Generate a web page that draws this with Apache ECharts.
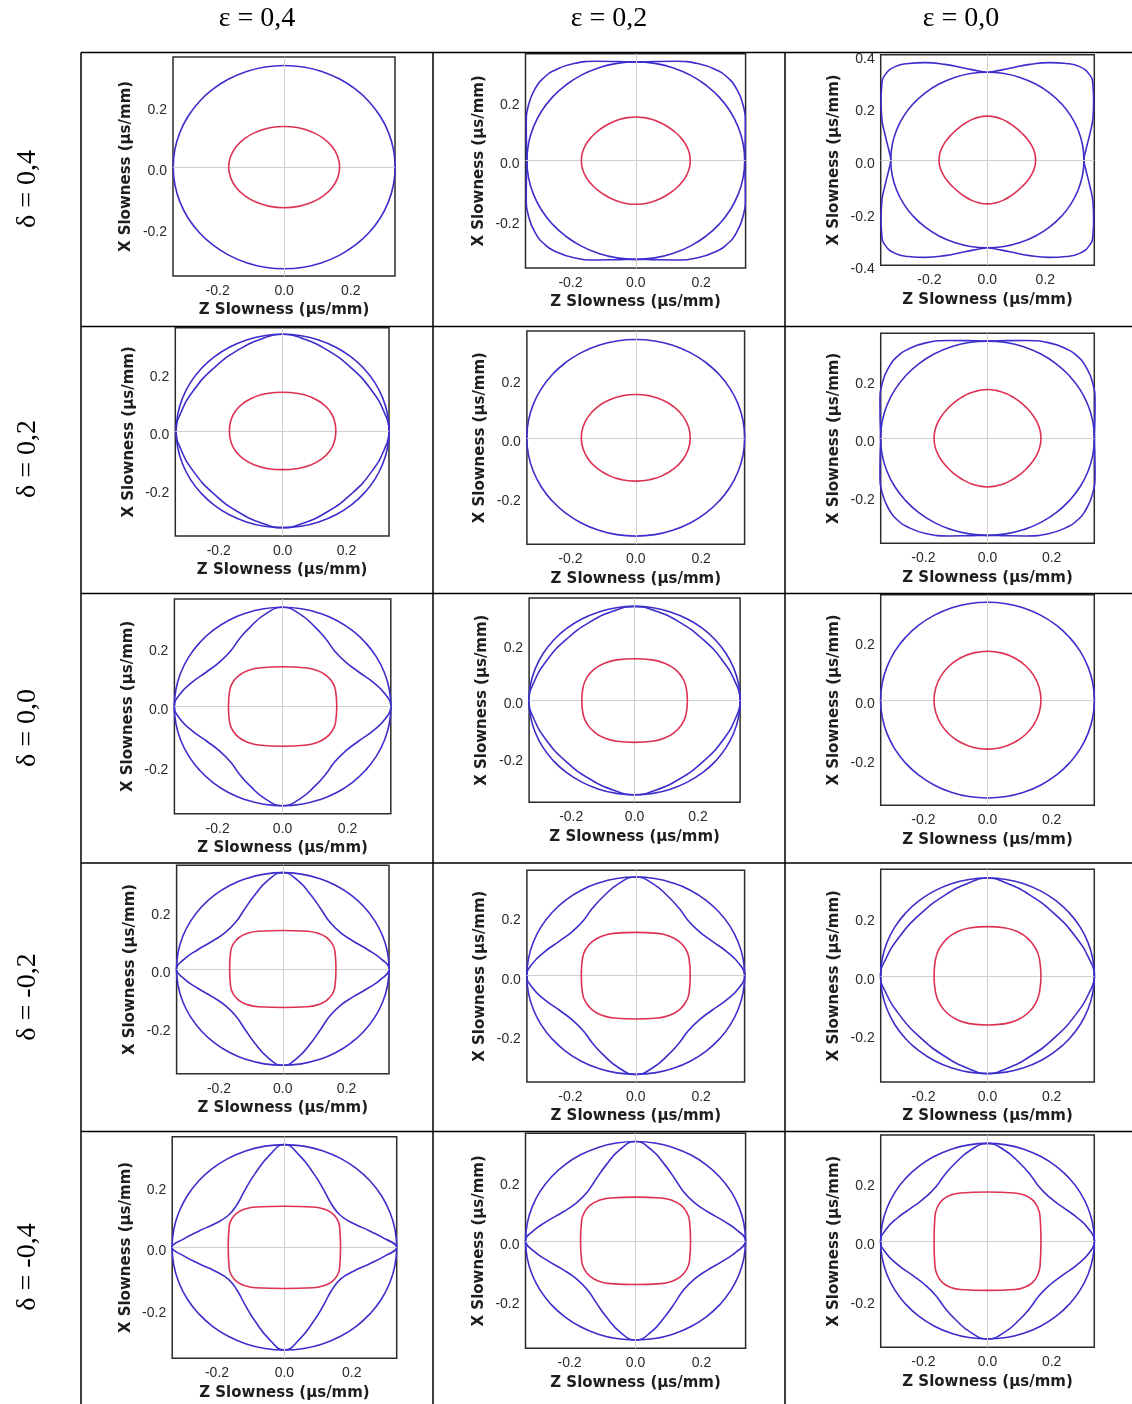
<!DOCTYPE html>
<html>
<head>
<meta charset="utf-8">
<script src="https://cdn.jsdelivr.net/npm/echarts@6/dist/echarts.min.js"></script>
<style>
html,body{margin:0;padding:0;background:#fff}
#chart{width:1132px;height:1404px}
</style>
</head>
<body>
<div id="chart"></div>
<script>
// Column / row headings (Thomsen parameters)
const epsLabels = ['ε = 0,4', 'ε = 0,2', 'ε = 0,0'];
const deltaLabels = ['δ = 0,4', 'δ = 0,2', 'δ = 0,0', 'δ = -0,2', 'δ = -0,4'];

// Tick labels
const zTicks = [-0.2, 0, 0.2];
const xTicks = [-0.2, 0, 0.2];
const xTicksWide = [-0.4, -0.2, 0, 0.2, 0.4];

// Slowness curves, first quadrant only: [Z slowness, X slowness] in µs/mm,
// running from the Z axis to the X axis. The rest follows by symmetry.

// SH wave: isotropic, same in every panel
const shCircle = [[0.3333,0],[0.3283,0.0579],[0.3132,0.1140],[0.2887,0.1667],[0.2553,0.2143],
  [0.2143,0.2553],[0.1667,0.2887],[0.1140,0.3132],[0.0579,0.3283],[0,0.3333]];

// qP
const qP_e4_d4  = [[0.1667,0],[0.1610,0.0345],[0.1444,0.0667],[0.1179,0.0943],[0.0834,0.1154],[0.0431,0.1288],[0,0.1333]];
const qP_e2_d4  = [[0.1667,0],[0.1629,0.0287],[0.1522,0.0554],[0.1365,0.0788],[0.1175,0.0986],[0.0966,0.1151],
  [0.0742,0.1284],[0.0505,0.1387],[0.0256,0.1453],[0,0.1475]];
const qP_e0_d4  = [[0.1667,0],[0.1629,0.0287],[0.1525,0.0555],[0.1376,0.0795],[0.1201,0.1008],[0.1008,0.1201],
  [0.0795,0.1376],[0.0555,0.1525],[0.0287,0.1629],[0,0.1667]];
const qP_e4_d2  = [[0.1667,0],[0.1615,0.0390],[0.1463,0.0710],[0.1216,0.0973],[0.0888,0.1170],[0.0488,0.1292],[0,0.1333]];
const qP_e2_d2  = [[0.1667,0],[0.1610,0.0380],[0.1444,0.0735],[0.1179,0.1039],[0.0834,0.1273],[0.0431,0.1420],[0,0.1470]];
const qP_e0_d2  = [[0.1667,0],[0.1634,0.0288],[0.1541,0.0561],[0.1401,0.0809],[0.1229,0.1031],[0.1031,0.1229],
  [0.0809,0.1401],[0.0561,0.1541],[0.0288,0.1634],[0,0.1672]];
const qP_e4_d0  = [[0.1667,0],[0.1629,0.0541],[0.1515,0.0840],[0.1323,0.1058],[0.1050,0.1211],[0.0677,0.1302],[0,0.1333]];
const qP_e2_d0  = [[0.1667,0],[0.1621,0.0502],[0.1486,0.0850],[0.1263,0.1122],[0.0957,0.1319],[0.0565,0.1439],[0,0.1480]];
const qP_e0_d0  = [[0.1667,0],[0.1610,0.0431],[0.1444,0.0834],[0.1179,0.1179],[0.0834,0.1444],[0.0431,0.1610],[0,0.1667]];
const qP_e4_dm2 = [[0.1667,0],[0.1634,0.0616],[0.1535,0.0897],[0.1367,0.1093],[0.1122,0.1228],[0.0770,0.1307],[0,0.1333]];
const qP_e2_dm2 = [[0.1667,0],[0.1629,0.0594],[0.1515,0.0922],[0.1323,0.1161],[0.1050,0.1329],[0.0677,0.1429],[0,0.1463]];
const qP_e0_dm2 = [[0.1667,0],[0.1621,0.0568],[0.1486,0.0962],[0.1263,0.1269],[0.0957,0.1493],[0.0565,0.1629],[0,0.1675]];
const qP_e4_dm4 = [[0.1667,0],[0.1638,0.0678],[0.1551,0.0943],[0.1402,0.1121],[0.1179,0.1240],[0.0848,0.1310],[0,0.1333]];
const qP_e2_dm4 = [[0.1667,0],[0.1634,0.0678],[0.1535,0.0987],[0.1367,0.1203],[0.1122,0.1351],[0.0770,0.1438],[0,0.1467]];
const qP_e0_dm4 = [[0.1667,0],[0.1638,0.0852],[0.1551,0.1184],[0.1402,0.1409],[0.1179,0.1559],[0.0848,0.1646],[0,0.1675]];

// qSV (null where it coincides with the SH circle, i.e. epsilon = delta)
const qSV_e2_d4 = [[0.3333,0],[0.3347,0.0590],[0.3353,0.1220],[0.3280,0.1893],[0.3023,0.2537],[0.2807,0.2807],
  [0.2537,0.3023],[0.1893,0.3280],[0.1220,0.3353],[0.0590,0.3347],[0,0.3333]];
const qSV_e0_d4 = [[0.3333,0],[0.3390,0.0333],[0.3530,0.0960],[0.3643,0.1590],[0.3667,0.2223],[0.3643,0.2853],
  [0.3530,0.3233],[0.3183,0.3547],[0.2723,0.3667],[0.2150,0.3700],[0.1460,0.3633],[0.0770,0.3483],[0.0197,0.3360],[0,0.3333]];
const qSV_e4_d2 = [[0.3333,0],[0.3192,0.0615],[0.2785,0.1401],[0.2161,0.2161],[0.1401,0.2785],[0.0615,0.3192],[0,0.3333]];
const qSV_e0_d2 = [[0.3333,0],[0.3347,0.0590],[0.3353,0.1220],[0.3280,0.1893],[0.3023,0.2537],[0.2807,0.2807],
  [0.2537,0.3023],[0.1893,0.3280],[0.1220,0.3353],[0.0590,0.3347],[0,0.3333]];
const qSV_e4_d0 = [[0.3333,0],[0.3167,0.0400],[0.2800,0.0800],[0.2333,0.1167],[0.1933,0.1500],[0.1600,0.1867],
  [0.1333,0.2267],[0.1000,0.2667],[0.0533,0.3100],[0,0.3333]];
const qSV_e2_d0 = [[0.3333,0],[0.3192,0.0615],[0.2785,0.1401],[0.2161,0.2161],[0.1401,0.2785],[0.0615,0.3192],[0,0.3333]];
const qSV_e4_dm2 = [[0.3333,0],[0.3100,0.0333],[0.2667,0.0667],[0.2200,0.0967],[0.1800,0.1267],[0.1467,0.1633],
  [0.1200,0.2067],[0.0900,0.2533],[0.0467,0.3067],[0,0.3333]];
const qSV_e2_dm2 = [[0.3333,0],[0.3167,0.0400],[0.2800,0.0800],[0.2333,0.1167],[0.1933,0.1500],[0.1600,0.1867],
  [0.1333,0.2267],[0.1000,0.2667],[0.0533,0.3100],[0,0.3333]];
const qSV_e0_dm2 = [[0.3333,0],[0.3182,0.0550],[0.2751,0.1323],[0.2100,0.2100],[0.1323,0.2751],[0.0550,0.3182],[0,0.3333]];
const qSV_e4_dm4 = [[0.3333,0],[0.3000,0.0267],[0.2533,0.0533],[0.2067,0.0767],[0.1667,0.1033],[0.1400,0.1400],
  [0.1167,0.1867],[0.0867,0.2400],[0.0433,0.3000],[0,0.3333]];
const qSV_e2_dm4 = [[0.3333,0],[0.3100,0.0333],[0.2667,0.0667],[0.2200,0.0967],[0.1800,0.1267],[0.1467,0.1633],
  [0.1200,0.2067],[0.0900,0.2533],[0.0467,0.3067],[0,0.3333]];
const qSV_e0_dm4 = [[0.3333,0],[0.3167,0.0400],[0.2800,0.0800],[0.2333,0.1167],[0.1933,0.1500],[0.1600,0.1867],
  [0.1333,0.2267],[0.1000,0.2667],[0.0533,0.3100],[0,0.3333]];

// Axis extents of every panel (µs/mm), row by row
const zRanges = [
  [-0.334,0.333],[-0.3376,0.336],[-0.368,0.369],
  [-0.336,0.333],[-0.333,0.333],[-0.333,0.333],
  [-0.333,0.333],[-0.333,0.333],[-0.333,0.333],
  [-0.333,0.333],[-0.333,0.333],[-0.333,0.333],
  [-0.333,0.3334],[-0.3335,0.3335],[-0.333,0.333]
];
const xRanges = [
  [-0.357,0.361],[-0.3625,0.361],[-0.4,0.4],
  [-0.362,0.356],[-0.361,0.362],[-0.3606,0.36],
  [-0.36,0.361],[-0.36,0.363],[-0.358,0.359],
  [-0.3623,0.3588],[-0.359,0.356],[-0.362,0.363],
  [-0.36,0.359],[-0.361,0.361],[-0.3615,0.362]
];

const qPCurves = [qP_e4_d4, qP_e2_d4, qP_e0_d4, qP_e4_d2, qP_e2_d2, qP_e0_d2, qP_e4_d0, qP_e2_d0, qP_e0_d0,
  qP_e4_dm2, qP_e2_dm2, qP_e0_dm2, qP_e4_dm4, qP_e2_dm4, qP_e0_dm4];
const qSVCurves = [null, qSV_e2_d4, qSV_e0_d4, qSV_e4_d2, null, qSV_e0_d2, qSV_e4_d0, qSV_e2_d0, null,
  qSV_e4_dm2, qSV_e2_dm2, qSV_e0_dm2, qSV_e4_dm4, qSV_e2_dm4, qSV_e0_dm4];

// Plot frames in page pixels: [left, top, right, bottom]
const frames = [
  [173,57,395,276],[525.5,53.7,745.6,268],[880.7,54.7,1094.3,265.3],
  [175.3,327.7,389,536],[526.9,331,744.6,544.3],[880.7,333.3,1094.3,543.3],
  [174.4,599,390.8,813.7],[529.1,598,740.1,802.3],[880.7,594.7,1094.3,805.3],
  [176.6,865.3,389,1073.7],[526.9,870.3,744.6,1082],[880.7,869.3,1094.3,1082],
  [172.2,1136.7,396.7,1358.3],[525.5,1133.3,745.6,1348.3],[880.7,1135,1094.3,1347.3]
];

const BLUE = '#3d2ecc';
const RED = '#dc3152';
const LABEL_FONT = '"Liberation Sans", Arial, sans-serif';
const TITLE_FONT = '"DejaVu Sans", sans-serif';
const SERIF = '"Liberation Serif", "Times New Roman", serif';

// Unfold a first-quadrant curve into a closed loop; one extra point on
// each end keeps the smoothing continuous where the loop closes.
function closedLoop(q) {
  const n = q.length, pts = [];
  for (let i = 0; i < n; i++) pts.push([q[i][0], q[i][1]]);
  for (let i = n - 2; i >= 0; i--) pts.push([-q[i][0], q[i][1]]);
  for (let i = 1; i < n; i++) pts.push([-q[i][0], -q[i][1]]);
  for (let i = n - 2; i >= 0; i--) pts.push([q[i][0], -q[i][1]]);
  const m = pts.length;
  return [pts[m - 2]].concat(pts, [pts[1]]);
}

const grids = [], xAxes = [], yAxes = [], series = [];
const fmt = v => (Math.abs(v) < 1e-9 ? 0 : v).toFixed(1);

frames.forEach((f, i) => {
  grids.push({
    left: f[0], top: f[1], width: f[2] - f[0], height: f[3] - f[1],
    show: true, borderColor: '#2b2b2b', borderWidth: 1.5, backgroundColor: '#fff'
  });
  xAxes.push({
    gridIndex: i, type: 'value', min: zRanges[i][0], max: zRanges[i][1],
    axisLine: { show: false }, axisTick: { show: false }, splitLine: { show: false },
    axisLabel: { customValues: zTicks, formatter: fmt, fontSize: 14, color: '#2a2a2a', margin: 8, fontFamily: LABEL_FONT },
    name: 'Z Slowness (µs/mm)', nameLocation: 'middle', nameGap: 27,
    nameTextStyle: { fontSize: 15, fontWeight: 'bold', color: '#1e1e1e', fontFamily: TITLE_FONT }
  });
  yAxes.push({
    gridIndex: i, type: 'value', min: xRanges[i][0], max: xRanges[i][1],
    axisLine: { show: false }, axisTick: { show: false }, splitLine: { show: false },
    axisLabel: {
      customValues: i === 2 ? xTicksWide : xTicks, formatter: fmt, fontSize: 14, color: '#2a2a2a',
      margin: 6, fontFamily: LABEL_FONT, verticalAlign: 'top', lineHeight: 8
    },
    name: 'X Slowness (µs/mm)', nameLocation: 'middle', nameGap: 39, nameRotate: 90,
    nameTextStyle: { fontSize: 15, fontWeight: 'bold', color: '#1e1e1e', fontFamily: TITLE_FONT }
  });
  const common = {
    type: 'line', xAxisIndex: i, yAxisIndex: i, smooth: 0.5, symbol: 'none', showSymbol: false,
    clip: false, silent: true, animation: false, emphasis: { disabled: true }
  };
  series.push(Object.assign({}, common, {
    name: 'SH', data: closedLoop(shCircle), z: 3,
    lineStyle: { color: BLUE, width: 1.6 },
    markLine: {
      silent: true, symbol: 'none', animation: false, label: { show: false },
      lineStyle: { color: '#cfcfcf', width: 1, type: 'solid' },
      data: [{ xAxis: 0 }, { yAxis: 0 }]
    }
  }));
  if (qSVCurves[i]) {
    series.push(Object.assign({}, common, {
      name: 'qSV', data: closedLoop(qSVCurves[i]), z: 4,
      lineStyle: { color: BLUE, width: 1.6 }
    }));
  }
  series.push(Object.assign({}, common, {
    name: 'qP', data: closedLoop(qPCurves[i]), z: 5,
    lineStyle: { color: RED, width: 1.6 }
  }));
});

// Table rules and headings
const graphics = [];
const rule = (x1, y1, x2, y2) => graphics.push({
  type: 'line', silent: true, z: 10,
  shape: { x1, y1, x2, y2 }, style: { stroke: '#000', lineWidth: 1.5 }
});
[52.5, 326.5, 593.5, 863, 1131.5].forEach(y => rule(81, y, 1132, y));
[81, 433, 785].forEach(x => rule(x, 52.5, x, 1404));

const colCenters = [257, 609, 961];
epsLabels.forEach((t, i) => graphics.push({
  type: 'text', x: colCenters[i], y: 19, silent: true,
  style: { text: t, font: '28px ' + SERIF, fill: '#000', align: 'center', verticalAlign: 'middle' }
}));
const rowCenters = [189, 459, 728, 997, 1267];
deltaLabels.forEach((t, i) => graphics.push({
  type: 'text', x: 28, y: rowCenters[i], rotation: Math.PI / 2, silent: true,
  style: { text: t, font: '28px ' + SERIF, fill: '#000', align: 'center', verticalAlign: 'middle' }
}));

const chart = echarts.init(document.getElementById('chart'), null, { renderer: 'canvas' });
chart.setOption({
  animation: false,
  backgroundColor: '#fff',
  grid: grids,
  xAxis: xAxes,
  yAxis: yAxes,
  series: series,
  graphic: graphics
});
</script>
</body>
</html>
